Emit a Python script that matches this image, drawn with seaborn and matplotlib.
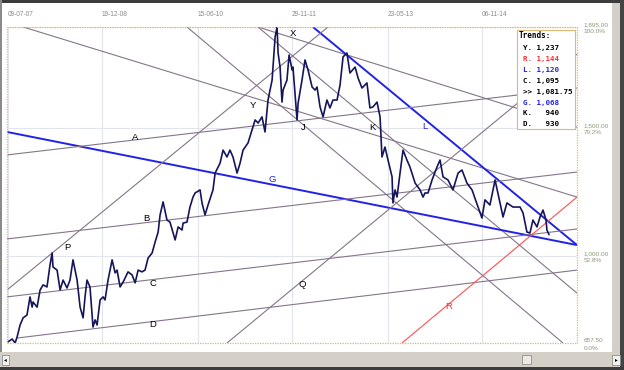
import numpy as np
import pandas as pd
import matplotlib
matplotlib.use("Agg")
import matplotlib.pyplot as plt
import seaborn as sns
from matplotlib.patches import Rectangle

START = pd.Timestamp("2007-07-09")

# ---- price series (days since start, price) ----
price_days = [0, 23, 40, 51, 68, 85, 107, 124, 136, 141, 164, 181, 198, 220, 237, 249, 254, 277, 294, 311,
              333, 350, 367, 390, 407, 424, 435, 446, 463, 480, 492, 503, 520, 537, 548, 565, 588, 605, 616, 633,
              650, 678, 701, 718, 735, 757, 774, 791, 814, 831, 848, 859, 876, 898, 915, 944, 961, 983, 989, 1011,
              1028, 1045, 1057, 1085, 1096, 1113, 1130, 1158, 1170, 1198, 1215, 1237, 1254, 1271, 1294, 1311, 1328, 1356, 1379, 1396,
              1413, 1435, 1452, 1469, 1492, 1509, 1520, 1526, 1537, 1548, 1554, 1576, 1588, 1605, 1610, 1633, 1639, 1661, 1678, 1695,
              1718, 1735, 1746, 1763, 1780, 1802, 1819, 1836, 1859, 1876, 1893, 1915, 1932, 1961, 1978, 2000, 2028, 2045, 2062, 2085,
              2102, 2113, 2130, 2147, 2170, 2175, 2187, 2198, 2215, 2232, 2254, 2271, 2300, 2328, 2345, 2356, 2373, 2396, 2424, 2441,
              2458, 2486, 2514, 2543, 2565, 2593, 2622, 2638, 2678, 2695, 2723, 2752, 2780, 2797, 2819, 2853, 2893, 2910, 2932, 2949,
              2966, 2989, 3006, 3023, 3040, 3045, 3057]
price_vals = [662, 673, 657.5, 681, 728, 756, 767, 838, 798, 818, 798, 865, 885, 877, 963, 1010, 955, 943, 865, 904,
              873, 904, 983, 904, 798, 756, 838, 904, 877, 720, 748, 728, 826, 838, 826, 904, 983, 932, 943, 877,
              896, 936, 924, 893, 943, 936, 943, 990, 1010, 1053, 1092, 1159, 1210, 1139, 1131, 1061, 1112, 1100, 1127, 1131,
              1190, 1229, 1245, 1257, 1206, 1159, 1198, 1257, 1323, 1362, 1413, 1386, 1413, 1386, 1323, 1362, 1413, 1441, 1492, 1531,
              1519, 1543, 1484, 1609, 1687, 1856, 1895, 1793, 1738, 1601, 1648, 1687, 1785, 1727, 1738, 1531, 1597, 1687, 1766, 1727,
              1660, 1648, 1660, 1582, 1543, 1609, 1578, 1609, 1609, 1668, 1778, 1793, 1715, 1738, 1695, 1656, 1676, 1578, 1582, 1601,
              1543, 1386, 1425, 1374, 1308, 1206, 1257, 1229, 1323, 1413, 1374, 1347, 1284, 1257, 1229, 1245, 1245, 1296, 1347, 1374,
              1308, 1296, 1257, 1323, 1335, 1284, 1257, 1225, 1147, 1218, 1198, 1296, 1206, 1151, 1206, 1190, 1190, 1167, 1092, 1088,
              1139, 1112, 1151, 1178, 1139, 1100, 1081.75]

# ---- trend lines: start/end (days since start, price) ----
trend_names = ["Y", "K", "M", "S", "L", "G", "A", "B", "C", "D", "P", "Q", "R"]
trend_d0 = [85, 1412, 1011, 1412, 1723, -6, -6, -6, -6, 51, -6, 1237, 2226]
trend_p0 = [1895, 1895, 1895, 1895, 1895, 1484, 1394, 1065, 838, 677, 865, 657.5, 657.5]
trend_d1 = [3215, 3215, 3136, 3215, 3215, 3215, 3215, 3215, 3215, 3215, 1808, 3215, 3215]
trend_p1 = [1229, 853, 657.5, 1503, 1041, 1041, 1656, 1327, 1104, 943, 1895, 1789, 1229]
trend_kind = ["gray", "gray", "gray", "gray", "blue", "blue", "gray", "gray", "gray", "gray", "gray", "gray", "red"]

# ---- line labels ----
label_text = ["X", "Y", "J", "K", "L", "A", "G", "B", "P", "C", "Q", "D", "R"]
label_day = [1610, 1384, 1667, 2057, 2356, 718, 1492, 780, 333, 819, 1661, 819, 2492]
label_price = [1868, 1586, 1500, 1503, 1507, 1464, 1296, 1147, 1033, 889, 885, 728, 799]
label_kind = ["gray", "gray", "gray", "gray", "blue", "gray", "blue", "gray", "gray", "gray", "gray", "gray", "red"]

# ---- axes ticks ----
tick_dates = ["2007-07-09", "2008-12-19", "2010-06-15", "2011-11-29", "2013-05-23", "2014-11-06"]
tick_labels = ["09-07-07", "19-12-08", "15-06-10", "29-11-11", "23-05-13", "06-11-14"]
y_ticks = [657.5, 1000, 1500, 1895]
y_labels = ["657.50\n0.0%", "1,000.00\n52.8%", "1,500.00\n79.2%", "1,895.00\n100.0%"]

# ---- trends box ----
legend_names = ["Y.", "R.", "L.", "C.", ">>", "G.", "K.", "D."]
legend_values = ["1,237", "1,144", "1,120", "1,095", "1,081.75", "1,068", "940", "930"]
legend_kind = ["gray", "red", "blue", "gray", "gray", "blue", "gray", "gray"]

colors = {"gray": "#85758a", "blue": "#2222e6", "red": "#ff5050"}
text_colors = {"gray": "#000000", "blue": "#2222e6", "red": "#ff3030"}

sns.set_style("white")
W, H = 624, 370
fig = plt.figure(figsize=(W / 100, H / 100), dpi=100)
fig.patch.set_facecolor("white")

ax_l, ax_r, ax_t, ax_b = 7, 577, 27, 343
ax = fig.add_axes([ax_l / W, 1 - ax_b / H, (ax_r - ax_l) / W, (ax_b - ax_t) / H])
ax.set_facecolor("white")

to_date = lambda d: START + pd.to_timedelta(np.asarray(d, dtype=float), unit="D")

df = pd.DataFrame({"date": to_date(price_days), "price": price_vals})

# trend lines
for i in range(len(trend_names)):
    k = trend_kind[i]
    lw = 1.4 if k == "blue" else 0.8
    ax.plot(to_date([trend_d0[i], trend_d1[i]]), [trend_p0[i], trend_p1[i]],
            color=colors[k], lw=lw, zorder=2, solid_capstyle="butt")

sns.lineplot(data=df, x="date", y="price", ax=ax, color="#15155c", lw=1.2, zorder=4)

for i in range(len(label_text)):
    ax.text(to_date([label_day[i]])[0], label_price[i], label_text[i],
            ha="center", va="center", fontsize=6.8, fontfamily="Liberation Sans",
            color=text_colors[label_kind[i]], zorder=6)

ax.set_xlim(to_date([-6])[0], to_date([3215])[0])
ax.set_ylim(657.5, 1895)
ax.set_xlabel("")
ax.set_ylabel("")

ax.xaxis.tick_top()
ax.set_xticks(pd.to_datetime(tick_dates))
ax.set_xticklabels(tick_labels, ha="left", fontsize=4.7, color="#8a8a8a", fontfamily="Liberation Sans")
ax.tick_params(axis="x", length=0, pad=6.5)
ax.yaxis.tick_right()
ax.set_yticks(y_ticks)
ax.set_yticklabels(y_labels, fontsize=4.6, color="#8a9878", fontfamily="Liberation Sans", linespacing=1.5)
ax.tick_params(axis="y", length=0, pad=5)
ax.grid(True, color="#e3e5ee", lw=0.8, zorder=0)
for s in ax.spines.values():
    s.set_visible(False)
ax.add_patch(Rectangle((0, 0), 1, 1, transform=ax.transAxes, fill=False,
                       ls=(0, (1, 1)), ec="#e8b458", lw=0.9, clip_on=False, zorder=7))


def px_rect(x0, y0, x1, y1, fc, ec="none", lw=0, z=10):
    fig.add_artist(Rectangle((x0 / W, 1 - y1 / H), (x1 - x0) / W, (y1 - y0) / H,
                             transform=fig.transFigure, fc=fc, ec=ec, lw=lw, zorder=z))


# window chrome
px_rect(0, 0, W, 3, "#3c3c3c")
px_rect(0, 0, 1.5, H, "#8a8a8a")
px_rect(612, 3, 620, 353, "#d4d0c8")
px_rect(620, 0, W, H, "#444444")
px_rect(0, 352, 620, 367, "#d4d0c8")
px_rect(0, 367, W, H, "#3c3c3c")
px_rect(2, 355, 9, 365, "#f2f2f2", ec="#808080", lw=0.5, z=11)
px_rect(522, 355, 531, 364, "#ece9e2", ec="#808080", lw=0.5, z=11)
px_rect(612, 355, 620, 365, "#f2f2f2", ec="#808080", lw=0.5, z=11)
fig.text(5.5 / W, 1 - 360 / H, "\u25c2", fontsize=4, ha="center", va="center", color="black", zorder=12)
fig.text(616 / W, 1 - 360 / H, "\u25b8", fontsize=4, ha="center", va="center", color="black", zorder=12)

# trends box
px_rect(517, 30, 575, 129, "white", ec="#e2b870", lw=0.8, z=12)
fig.text(519 / W, 1 - 36 / H, "Trends:", fontsize=5.5, fontfamily="DejaVu Sans Mono", fontweight="bold",
         ha="left", va="center", color="black", zorder=13)
for i in range(len(legend_names)):
    s = f"{legend_names[i]} {legend_values[i]:>5}"
    fig.text(523 / W, 1 - (48 + 10.9 * i) / H, s, fontsize=5.4, fontfamily="DejaVu Sans Mono",
             fontweight="bold", ha="left", va="center", color=text_colors[legend_kind[i]], zorder=13)

fig.savefig("out.png", dpi=100)
